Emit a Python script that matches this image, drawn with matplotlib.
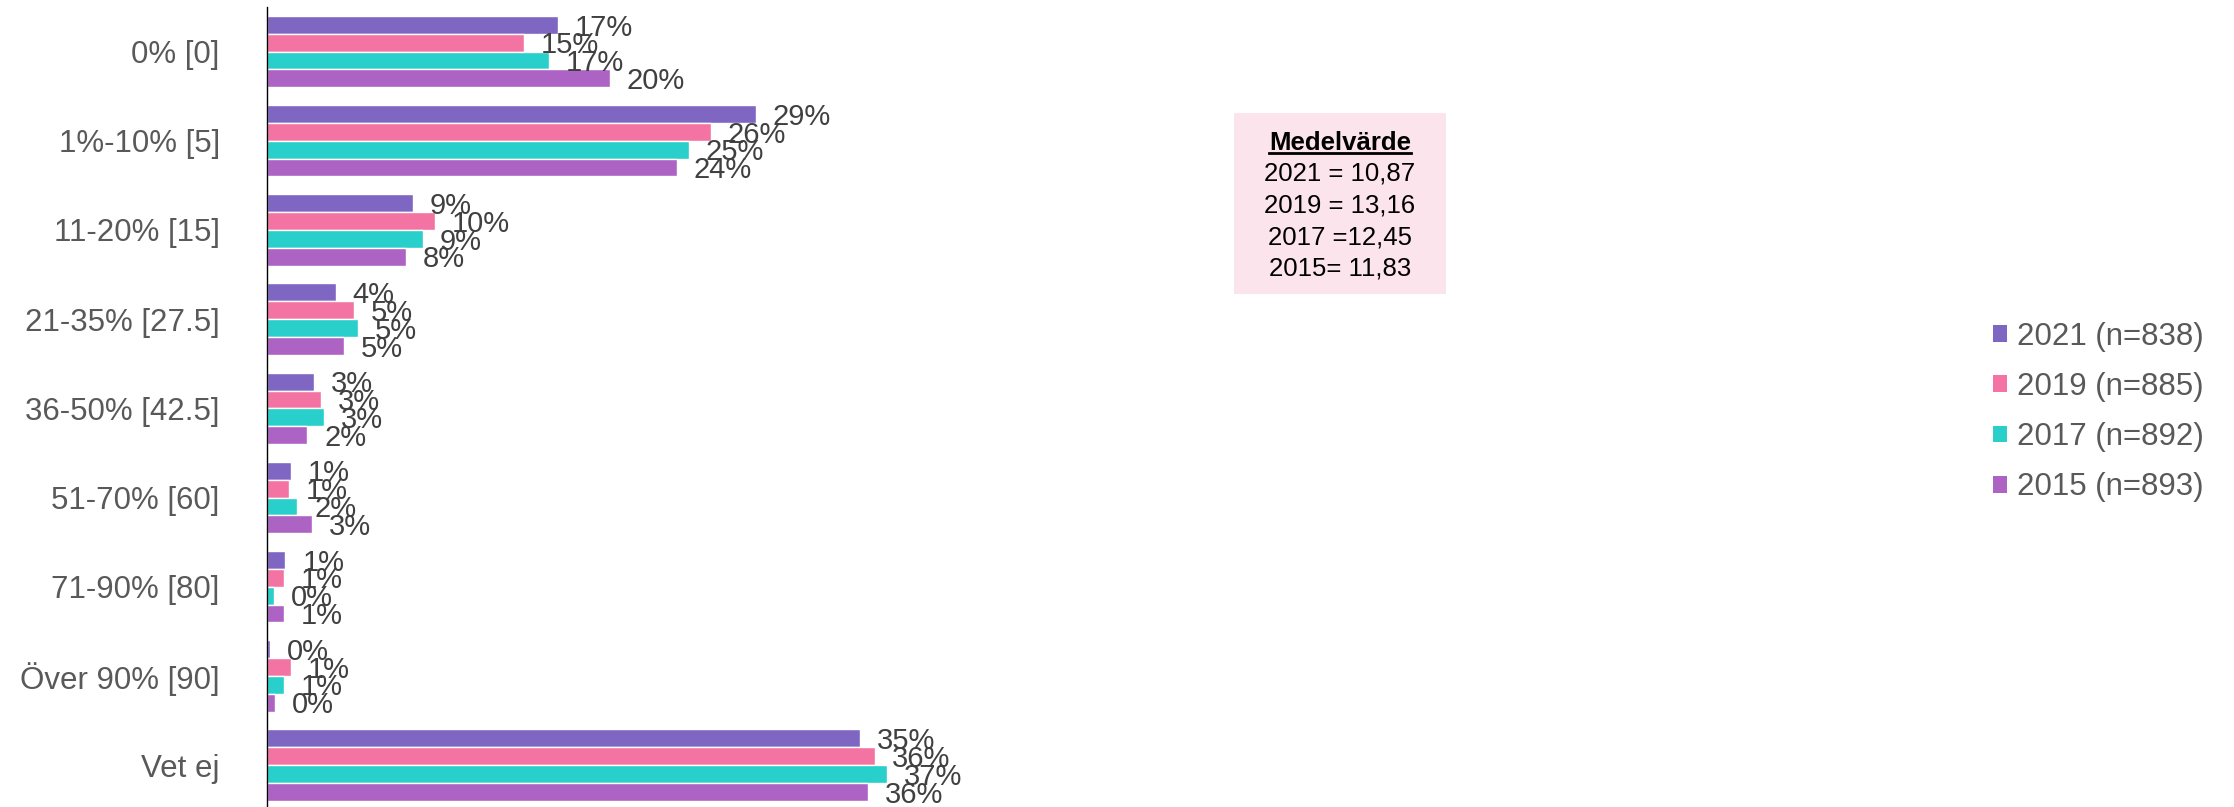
import numpy as np
import matplotlib
matplotlib.use("Agg")
import matplotlib.pyplot as plt
from matplotlib.patches import Patch, Rectangle
from matplotlib.lines import Line2D

plt.rcParams['font.family'] = ['Liberation Sans', 'DejaVu Sans']

# Data (percent)
categories = ["0% [0]", "1%-10% [5]", "11-20% [15]", "21-35% [27.5]", "36-50% [42.5]",
              "51-70% [60]", "71-90% [80]", "Över 90% [90]", "Vet ej"]
series_names = ["2021 (n=838)", "2019 (n=885)", "2017 (n=892)", "2015 (n=893)"]
v2021 = [17.3, 29.1, 8.7, 4.1, 2.8, 1.4, 1.1, 0.2, 35.3]
v2019 = [15.3, 26.4, 10.0, 5.2, 3.2, 1.3, 1.0, 1.4, 36.2]
v2017 = [16.8, 25.1, 9.3, 5.4, 3.4, 1.8, 0.4, 1.0, 36.9]
v2015 = [20.4, 24.4, 8.3, 4.6, 2.4, 2.7, 1.0, 0.5, 35.8]
colors = ["#7F66C2", "#F374A2", "#29CFCA", "#AD63C4"]
box_title = "Medelvärde"
box_lines = ["2021 = 10,87", "2019 = 13,16", "2017 =12,45", "2015= 11,83"]

W, H = 2234, 807
fig = plt.figure(figsize=(W / 100, H / 100), dpi=100)
ax = fig.add_axes([267 / W, 0, (1900 - 267) / W, 800 / H])

all_vals = [v2021, v2019, v2017, v2015]
y = np.arange(len(categories))
bh = 0.2
for i, (vals, col) in enumerate(zip(all_vals, colors)):
    pos = y - 0.3 + i * bh
    ax.barh(pos, vals, height=bh, color=col, edgecolor="white", linewidth=1)
    for p, v in zip(pos, vals):
        ax.text(v + 1.0, p + 0.03, f"{round(v):d}%", va="center", ha="left",
                fontsize=21, color="#404040")

ax.set_xlim(0, (1900 - 267) / 16.8)
ax.set_ylim(len(categories) - 0.53, -0.5)
ax.set_yticks(y)
ax.set_yticklabels(categories, fontsize=22.5, color="#595959")
ax.tick_params(axis="y", length=0, pad=34)
ax.set_xticks([])
for s in ["top", "right", "bottom"]:
    ax.spines[s].set_visible(False)
ax.spines["left"].set_linewidth(1)
ax.spines["left"].set_color("black")

# legend
handles = [Patch(facecolor=c, edgecolor="none") for c in colors]
fig.legend(handles, series_names, loc="center left", bbox_to_anchor=(1965 / W, 1 - 412 / H),
           frameon=False, fontsize=22.5, labelcolor="#595959", handlelength=0.45,
           handleheight=0.45, handletextpad=0.3, labelspacing=0.65)

# Medelvärde box
fig.patches.append(Rectangle((1234 / W, 1 - 294 / H), (1446 - 1234) / W, (294 - 113) / H,
                             transform=fig.transFigure, facecolor="#FCE4EC",
                             edgecolor="none", zorder=0))
cx = 1340 / W
t = fig.text(cx, 1 - 143 / H, box_title, ha="center", va="center", fontsize=18.5,
             fontweight="bold", color="black")
for k, line in enumerate(box_lines):
    fig.text(cx, 1 - (174 + 31.5 * k) / H, line, ha="center", va="center",
             fontsize=18.5, color="black")
fig.canvas.draw()
bb = t.get_window_extent().transformed(fig.transFigure.inverted())
fig.lines.append(Line2D([bb.x0, bb.x1], [bb.y0 + 0.002, bb.y0 + 0.002],
                        transform=fig.transFigure, color="black", linewidth=2))

fig.savefig("out.png", dpi=100)
